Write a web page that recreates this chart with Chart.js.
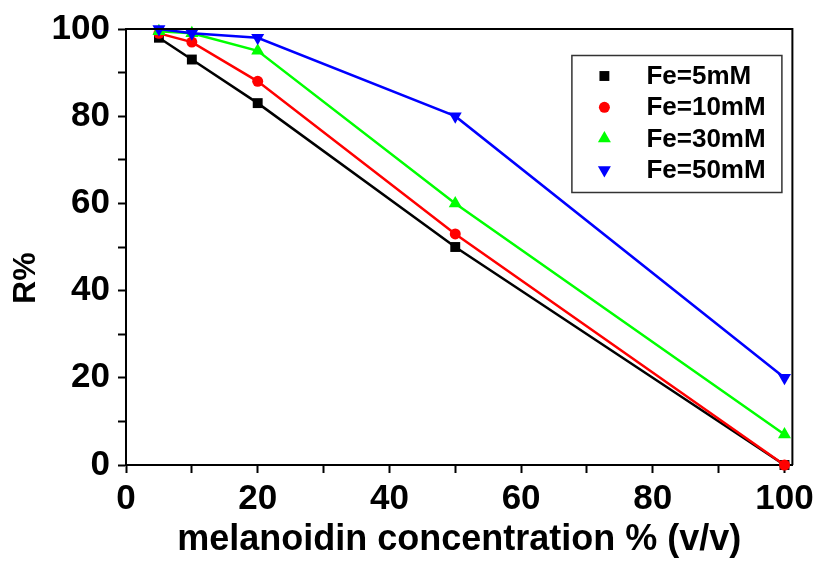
<!DOCTYPE html>
<html lang="en">
<head>
    <meta charset="UTF-8">
    <title>R% vs melanoidin concentration</title>
    <script src="https://cdn.jsdelivr.net/npm/chart.js"></script>
    <style>
        body { margin: 0; background: #fff; }
        #wrap { width: 819px; height: 562px; }
    </style>
</head>
<body>
    <div id="wrap"><canvas id="chart" width="819" height="562"></canvas></div>

    <script>
        // data
        const concentration = [5, 10, 20, 50, 100];
        const fe5 = [98, 93, 83, 50, 0];
        const fe10 = [99, 97, 88, 53, 0];
        const fe30 = [99.5, 99, 95, 60, 7];
        const fe50 = [100, 99, 98, 80, 20];
        const seriesNames = ['Fe=5mM', 'Fe=10mM', 'Fe=30mM', 'Fe=50mM'];
        const xTicks = [0, 20, 40, 60, 80, 100];
        const yTicks = [0, 20, 40, 60, 80, 100];

        const FONT = "'Liberation Sans', Arial, sans-serif";

        function pts(ys) {
            return concentration.map((x, i) => ({ x: x, y: ys[i] }));
        }

        const styles = [
            { color: '#000000', pointStyle: 'rect', radius: 7, rotation: 0 },
            { color: '#ff0000', pointStyle: 'circle', radius: 5.5, rotation: 0 },
            { color: '#00ff00', pointStyle: 'triangle', radius: 7.5, rotation: 0 },
            { color: '#0000ff', pointStyle: 'triangle', radius: 7.5, rotation: 180 }
        ];

        const datasets = [fe5, fe10, fe30, fe50].map((ys, i) => ({
            label: seriesNames[i],
            data: pts(ys),
            order: 3 - i, // later series drawn on top
            borderColor: styles[i].color,
            backgroundColor: styles[i].color,
            borderWidth: 2.5,
            pointStyle: styles[i].pointStyle,
            pointRadius: styles[i].radius,
            pointRotation: styles[i].rotation,
            pointBorderWidth: 0,
            pointHoverRadius: styles[i].radius,
            showLine: true,
            tension: 0,
            clip: false
        }));

        // frame (top and right) + legend box inside the plot
        const framePlugin = {
            id: 'frameLegend',
            afterDatasetsDraw(chart) {
                const ctx = chart.ctx;
                const a = chart.chartArea;
                ctx.save();
                ctx.strokeStyle = '#000';
                ctx.lineWidth = 2;
                ctx.beginPath();
                ctx.moveTo(a.left, a.top);
                ctx.lineTo(a.right, a.top);
                ctx.lineTo(a.right, a.bottom);
                ctx.stroke();

                // legend
                const bx = a.right - 221, by = a.top + 26, bw = 210, bh = 137;
                ctx.fillStyle = '#fff';
                ctx.fillRect(bx, by, bw, bh);
                ctx.strokeStyle = '#333';
                ctx.lineWidth = 1.5;
                ctx.strokeRect(bx + 0.5, by + 0.5, bw, bh);
                ctx.font = 'bold 26px ' + FONT;
                ctx.textBaseline = 'middle';
                ctx.textAlign = 'left';
                chart.data.datasets.forEach((ds, i) => {
                    const y = by + 21 + i * 31.3;
                    ctx.fillStyle = ds.backgroundColor;
                    Chart.helpers.drawPoint(ctx, {
                        pointStyle: ds.pointStyle,
                        radius: ds.pointRadius,
                        rotation: ds.pointRotation,
                        borderWidth: 0
                    }, bx + 33, y);
                    ctx.fillStyle = '#000';
                    ctx.fillText(ds.label, bx + 75, y + 1);
                });
                ctx.restore();
            }
        };

        new Chart(document.getElementById('chart'), {
            type: 'scatter',
            data: { datasets: datasets },
            options: {
                responsive: false,
                animation: false,
                layout: { padding: { left: 0, right: 26, top: 26, bottom: 0 } },
                plugins: {
                    legend: { display: false },
                    tooltip: { enabled: false }
                },
                scales: {
                    x: {
                        type: 'linear',
                        min: 0,
                        max: 101.2,
                        afterFit(scale) { scale.height = 97; },
                        ticks: {
                            stepSize: 10,
                            includeBounds: false,
                            maxRotation: 0,
                            autoSkip: false,
                            padding: 5,
                            color: '#000',
                            font: { family: FONT, size: 35, weight: 'bold' },
                            callback: v => xTicks.includes(v) ? String(v) : ''
                        },
                        grid: {
                            display: true,
                            drawOnChartArea: false,
                            drawTicks: true,
                            tickLength: 8,
                            tickWidth: 2,
                            tickColor: '#000'
                        },
                        border: { display: true, color: '#000', width: 2 },
                        title: {
                            display: true,
                            text: 'melanoidin concentration % (v/v)',
                            color: '#000',
                            font: { family: FONT, size: 36, weight: 'bold' },
                            padding: { top: 0, bottom: 0 }
                        }
                    },
                    y: {
                        type: 'linear',
                        min: 0,
                        max: 100,
                        afterFit(scale) { scale.width = 126; },
                        ticks: {
                            stepSize: 10,
                            autoSkip: false,
                            padding: 8,
                            color: '#000',
                            font: { family: FONT, size: 35, weight: 'bold' },
                            callback: v => yTicks.includes(v) ? String(v) : ''
                        },
                        grid: {
                            display: true,
                            drawOnChartArea: false,
                            drawTicks: true,
                            tickLength: 8,
                            tickWidth: 2,
                            tickColor: '#000'
                        },
                        border: { display: true, color: '#000', width: 2 },
                        title: {
                            display: true,
                            text: 'R%       ',
                            color: '#000',
                            font: { family: FONT, size: 32, weight: 'bold' },
                            padding: { top: 7, bottom: 0 }
                        }
                    }
                }
            },
            plugins: [framePlugin]
        });
    </script>
</body>
</html>
